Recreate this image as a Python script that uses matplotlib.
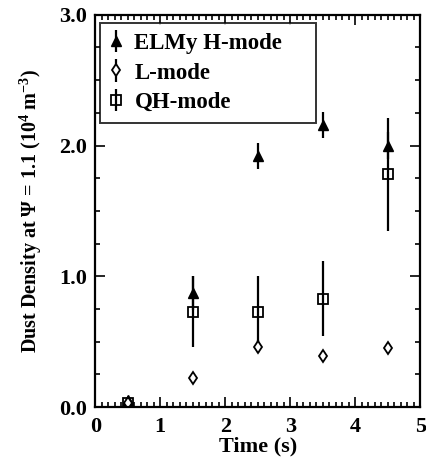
import matplotlib
matplotlib.use("Agg")
import matplotlib.pyplot as plt
from matplotlib.ticker import MultipleLocator

plt.rcParams['font.family'] = ['Liberation Serif', 'DejaVu Serif']
plt.rcParams['font.weight'] = 'bold'
plt.rcParams['mathtext.fontset'] = 'custom'
plt.rcParams['mathtext.rm'] = 'Liberation Serif:bold'
plt.rcParams['mathtext.it'] = 'Liberation Serif:bold'
plt.rcParams['mathtext.bf'] = 'Liberation Serif:bold'

# dust density (10^4 m^-3) at each time slice
time = [0.5, 1.5, 2.5, 3.5, 4.5]
elmy = [0.05, 0.87, 1.92, 2.16, 2.0]
elmy_err = [0.03, 0.13, 0.10, 0.10, 0.10]
lmode = [0.03, 0.22, 0.46, 0.39, 0.45]
lmode_err = [0.02, 0.02, 0.05, 0.04, 0.04]
qh = [0.03, 0.73, 0.73, 0.83, 1.78]
qh_err = [0.02, 0.27, 0.27, 0.29, 0.43]

fig = plt.figure(figsize=(4.27, 4.62), dpi=100)
ax = fig.add_axes([0.223, 0.119, 0.761, 0.849])

ax.errorbar(time, elmy, yerr=elmy_err, fmt='^', color='black', ms=6.5,
            elinewidth=1.6, capsize=0, label='ELMy H-mode')
ax.errorbar(time, lmode, yerr=lmode_err, fmt='d', color='black', mfc='white',
            ms=6.5, mew=1.3, elinewidth=1.6, capsize=0, label='L-mode')
ax.errorbar(time, qh, yerr=qh_err, fmt='s', color='black', mfc='none',
            ms=7.5, mew=1.3, elinewidth=1.6, capsize=0, label='QH-mode')

ax.set_xlim(0, 5)
ax.set_ylim(0, 3.0)
ax.xaxis.set_major_locator(MultipleLocator(1))
ax.xaxis.set_minor_locator(MultipleLocator(0.1))
ax.yaxis.set_minor_locator(MultipleLocator(0.25))
ax.set_yticks([0, 1, 2, 3])
ax.set_yticklabels(['0.0', '1.0', '2.0', '3.0'])
ax.tick_params(which='both', direction='in', top=True, right=True,
               labelsize=16, width=1.2)
ax.tick_params(which='major', length=7)
ax.tick_params(which='minor', length=3.5)
ax.tick_params(axis='x', pad=7)
ax.tick_params(axis='y', pad=6)
for s in ax.spines.values():
    s.set_linewidth(1.6)

ax.set_xlabel('Time (s)', fontsize=16, fontweight='bold', labelpad=0)
ax.set_ylabel(r'Dust Density at $\Psi$ = 1.1 (10$^4$ m$^{-3}$)',
              fontsize=14.5, fontweight='bold', labelpad=11)

# legend box stretched wider than its text
leg = ax.legend(loc='upper left', bbox_to_anchor=(0.015, 0.0, 0.665, 0.98),
                mode='expand', borderaxespad=0, frameon=True, fancybox=False,
                edgecolor='black', handlelength=0.5, handletextpad=0.55,
                borderpad=0.45, labelspacing=0.37,
                prop={'weight': 'bold', 'size': 16.5})
leg.get_frame().set_linewidth(1.4)

fig.savefig('out.png', dpi=100)
